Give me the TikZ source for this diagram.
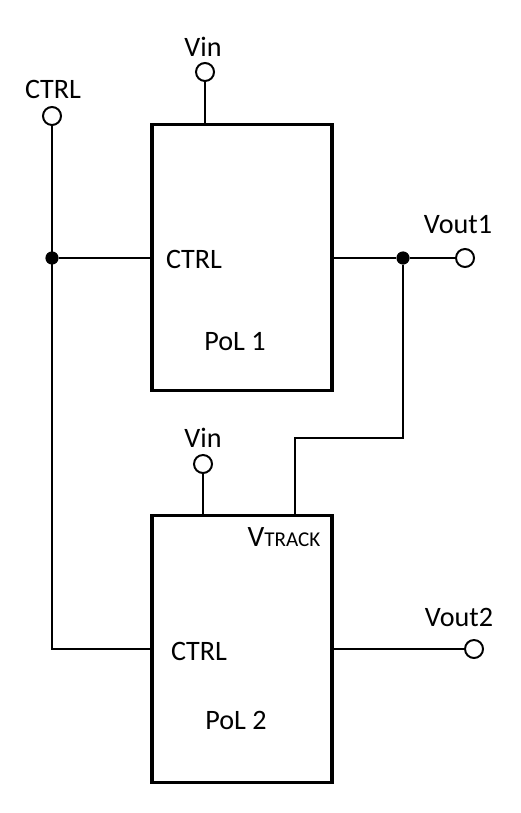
\documentclass[tikz,border=0pt]{standalone}
\usepackage{fontspec}
\setmainfont{Carlito}
\usepackage{tikz}
\usetikzlibrary{positioning, calc}

\tikzset{
  polbox/.style={draw, line width=2.4pt, minimum width=4.5cm, minimum height=6.66cm, inner sep=0pt},
  term/.style={circle, draw, fill=white, line width=1.4pt, minimum size=0.45cm, inner sep=0pt},
  jdot/.style={circle, fill=black, minimum size=0.33cm, inner sep=0pt},
  wire/.style={line width=1.4pt},
  lbl/.style={inner sep=0pt, font=\fontsize{20}{24}\selectfont}
}

\begin{document}
\begin{tikzpicture}[x=0.025cm, y=-0.025cm]
          \useasboundingbox (0,0) rectangle (520,813);
          % Blocks
          \node[polbox] (pol1) at (242,257.5) {};
          \node[polbox] (pol2) at (242,649) {};
          % Terminals
          \node[term] (vin1)  at (205,72)  {};
          \node[term] (vin2)  at (203,464) {};
          \node[term] (ctrl)  at (52,116)  {};
          \node[term] (vout1) at (465,258) {};
          \node[term] (vout2) at (474,649) {};
          % Junctions
          \node[jdot] (j1) at (52,258)  {};
          \node[jdot] (j2) at (403,258) {};
          \coordinate (bend) at (295,438);
          \coordinate (cl)   at (52,649);
          % Wires
          \draw[wire] (vin1) -- (vin1 |- pol1.north);
          \draw[wire] (vin2) -- (vin2 |- pol2.north);
          \draw[wire] (ctrl) -- (cl) -- (pol2.west);
          \draw[wire] (j1) -- (j1 -| pol1.west);
          \draw[wire] (j2 -| pol1.east) -- (j2) -- (vout1);
          \draw[wire] (j2) |- (bend) -- (bend |- pol2.north);
          \draw[wire] (vout2 -| pol2.east) -- (vout2);
          % Labels
          \node[lbl] (tvin1)  at (203,47)  {Vin};
          \node[lbl] (tvin2)  at (203,438) {Vin};
          \node[lbl] (tctrl)  at (53,89)   {CTRL};
          \node[lbl] (tvout1) at (458,225) {Vout1};
          \node[lbl] (tvout2) at (459,617) {Vout2};
          \node[lbl] (c1) at (194,259) {CTRL};
          \node[lbl] (c2) at (199,651) {CTRL};
          \node[lbl] (p1) at (235,342) {PoL 1};
          \node[lbl] (p2) at (236,720) {PoL 2};
          \node[inner sep=0pt] (vtr) at (284,537)
               {\fontsize{21}{24}\selectfont V\fontsize{15}{18}\selectfont TRACK};
        \end{tikzpicture}
\end{document}
